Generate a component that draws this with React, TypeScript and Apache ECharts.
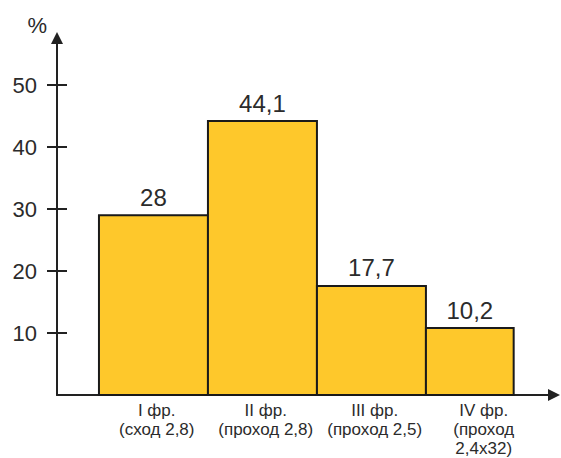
import React, { useEffect, useRef } from "react";
import * as echarts from "echarts";

const categories = [
  "I фр.\n(сход 2,8)",
  "II фр.\n(проход 2,8)",
  "III фр.\n(проход 2,5)",
  "IV фр.\n(проход\n2,4x32)",
];
// interval edges of the histogram bins (bar 4 is narrower)
const binEdges = [0.385, 1.385, 2.385, 3.385, 4.19];
// bar heights as drawn
const barHeights = [29, 44.2, 17.6, 10.8];
// printed value labels
const valueLabels = ["28", "44,1", "17,7", "10,2"];
const yTicks = [10, 20, 30, 40, 50];

const FONT = "'Liberation Sans', Arial, sans-serif";
const INK = "#222";
const TEXT = "#2b2b2b";
const FILL = "#FEC82B";

export default function App() {
  const ref = useRef<HTMLDivElement>(null);
  useEffect(() => {
    if (!ref.current) return;
    const chart = echarts.init(ref.current, undefined, { renderer: "svg" });
    const labelPos = categories.map((_, i) => binEdges[i] + 0.53);
    const data = barHeights.map((h, i) => [binEdges[i], binEdges[i + 1], h]);
    chart.setOption({
      animation: false,
      backgroundColor: "#fff",
      grid: {
        left: 57,
        right: 7,
        top: 38,
        bottom: 63,
        containLabel: false,
        outerBoundsMode: "none",
      },
      xAxis: {
        type: "value",
        min: 0,
        max: 4.56,
        axisLine: {
          show: true,
          lineStyle: { color: INK, width: 2 },
          symbol: ["none", "triangle"],
          symbolSize: [12, 12],
        },
        axisTick: { show: false },
        splitLine: { show: false },
        axisLabel: {
          customValues: labelPos,
          formatter: (v: number) => {
            let best = 0;
            labelPos.forEach((p, i) => {
              if (Math.abs(p - v) < Math.abs(labelPos[best] - v)) best = i;
            });
            return categories[best];
          },
          fontSize: 17,
          lineHeight: 19,
          color: TEXT,
          fontFamily: FONT,
          margin: 6,
        },
      },
      yAxis: [
        {
          type: "value",
          min: 0,
          max: 57.6,
          name: "%",
          nameLocation: "end",
          nameGap: 2,
          nameTextStyle: {
            fontSize: 22,
            color: TEXT,
            fontFamily: FONT,
            align: "right",
            verticalAlign: "bottom",
            padding: [0, 10, 0, 0],
          },
          axisLine: {
            show: true,
            lineStyle: { color: INK, width: 2 },
            symbol: ["none", "triangle"],
            symbolSize: [12, 12],
          },
          axisTick: {
            show: true,
            customValues: yTicks,
            length: 10,
            lineStyle: { color: INK, width: 2 },
          },
          axisLabel: {
            customValues: yTicks,
            margin: 20,
            fontSize: 22,
            color: TEXT,
            fontFamily: FONT,
          },
          splitLine: { show: false },
        },
        {
          type: "value",
          min: 0,
          max: 57.6,
          position: "left",
          axisLine: { show: false },
          axisTick: {
            show: true,
            inside: true,
            customValues: yTicks,
            length: 10,
            lineStyle: { color: INK, width: 2 },
          },
          axisLabel: { show: false },
          splitLine: { show: false },
        },
      ],
      series: [
        {
          type: "custom",
          xAxisIndex: 0,
          yAxisIndex: 0,
          encode: { x: [0, 1], y: 2 },
          data,
          renderItem: (params: any, api: any) => {
            const x0 = api.value(0);
            const x1 = api.value(1);
            const h = api.value(2);
            const p0 = api.coord([x0, h]);
            const p1 = api.coord([x1, 0]);
            return {
              type: "group",
              children: [
                {
                  type: "rect",
                  shape: {
                    x: p0[0],
                    y: p0[1],
                    width: p1[0] - p0[0],
                    height: p1[1] - p0[1],
                  },
                  style: { fill: FILL, stroke: "#1a1a1a", lineWidth: 2 },
                },
                {
                  type: "text",
                  x: (p0[0] + p1[0]) / 2,
                  y: p0[1] - 6,
                  style: {
                    text: valueLabels[params.dataIndex],
                    align: "center",
                    verticalAlign: "bottom",
                    fontSize: 24,
                    fontFamily: FONT,
                    fill: TEXT,
                  },
                },
              ],
            };
          },
        },
      ],
    });
    return () => chart.dispose();
  }, []);
  return (
    <div
      ref={ref}
      style={{ position: "fixed", left: 0, top: 0, width: 561, height: 458 }}
    />
  );
}
